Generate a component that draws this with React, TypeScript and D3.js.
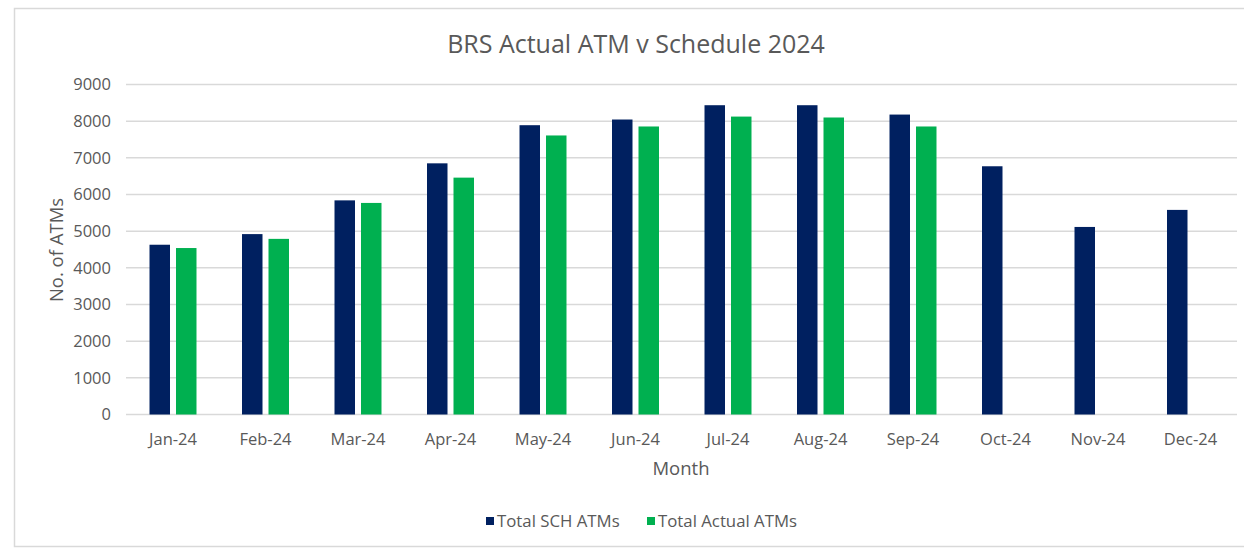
import React from "react";
import * as d3 from "d3";

const months = ["Jan-24","Feb-24","Mar-24","Apr-24","May-24","Jun-24","Jul-24","Aug-24","Sep-24","Oct-24","Nov-24","Dec-24"];
const schATMs = [4630, 4920, 5840, 6850, 7890, 8045, 8435, 8435, 8180, 6770, 5115, 5580];
const actualATMs: (number | null)[] = [4540, 4790, 5770, 6460, 7610, 7855, 8125, 8100, 7855, null, null, null];
const seriesNames = ["Total SCH ATMs", "Total Actual ATMs"];
const seriesColors = ["#002060", "#00B050"];
const yTicks = [0, 1000, 2000, 3000, 4000, 5000, 6000, 7000, 8000, 9000];

const W = 1244, H = 550;
const FONT = "'Open Sans', sans-serif";
const TEXT = "#595959";

export default function App() {
  const x0 = d3.scaleBand<string>().domain(months).range([126.75, 1236.75]).paddingInner(0.492).paddingOuter(0.246);
  const x1 = d3.scaleBand<string>().domain(seriesNames).range([0, x0.bandwidth()]).paddingInner(0.2264);
  const y = d3.scaleLinear().domain([0, 9000]).range([414.5, 84.5]);
  const series = [schATMs, actualATMs];

  return (
    <svg width={W} height={H} style={{ position: "absolute", left: 0, top: 0, background: "#fff" }} fontFamily={FONT}>
      <rect x={14.5} y={8.5} width={W + 10} height={538} fill="#fff" stroke="#d9d9d9" strokeWidth={1.5} />
      <text x={636} y={53} textAnchor="middle" fontSize={25} fill={TEXT}>BRS Actual ATM v Schedule 2024</text>
      {yTicks.map((t) => (
        <g key={t}>
          <line x1={126} x2={1237} y1={y(t)} y2={y(t)} stroke="#d9d9d9" strokeWidth={1.5} />
          <text x={111} y={y(t)} dy="0.35em" textAnchor="end" fontSize={16.5} fill={TEXT}>{t}</text>
        </g>
      ))}
      {months.map((m, i) => (
        <g key={m} transform={`translate(${x0(m)},0)`}>
          {series.map((s, j) => {
            const v = s[i];
            if (v == null) return null;
            return (
              <rect key={j} x={x1(seriesNames[j])} y={y(v)} width={x1.bandwidth()} height={y(0) - y(v)} fill={seriesColors[j]} />
            );
          })}
          <text x={x0.bandwidth() / 2} y={445} textAnchor="middle" fontSize={16.5} fill={TEXT}>{m}</text>
        </g>
      ))}
      <text x={681} y={475} textAnchor="middle" fontSize={18.5} fill={TEXT}>Month</text>
      <text transform="translate(63,250) rotate(-90)" textAnchor="middle" fontSize={18.5} fill={TEXT}>No. of ATMs</text>
      {seriesNames.map((n, j) => {
        const lx = j === 0 ? 486 : 647;
        return (
          <g key={n}>
            <rect x={lx} y={517} width={8} height={8} fill={seriesColors[j]} />
            <text x={lx + 11} y={521} dy="0.35em" fontSize={16.8} fill={TEXT}>{n}</text>
          </g>
        );
      })}
    </svg>
  );
}
